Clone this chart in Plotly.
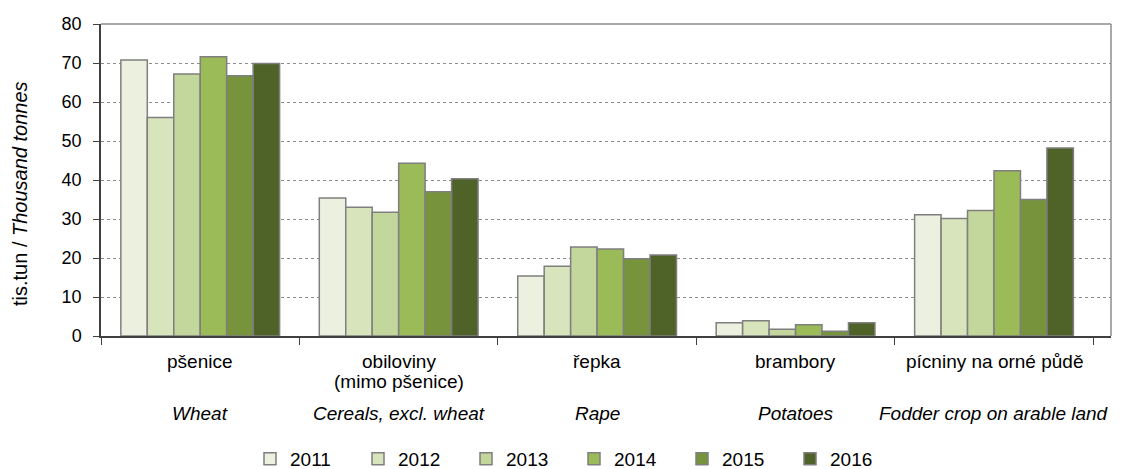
import plotly.graph_objects as go

categories_cz = ["pšenice", "obiloviny (mimo pšenice)", "řepka", "brambory", "pícniny na orné půdě"]
label_line1 = ["pšenice", "obiloviny", "řepka", "brambory", "pícniny na orné půdě"]
label_line2 = ["", "(mimo pšenice)", "", "", ""]
categories_en = ["Wheat", "Cereals, excl. wheat", "Rape", "Potatoes", "Fodder crop on arable land"]
years = ["2011", "2012", "2013", "2014", "2015", "2016"]
values = {
    "2011": [70.8, 35.4, 15.4, 3.4, 31.1],
    "2012": [56.0, 33.0, 17.9, 3.9, 30.1],
    "2013": [67.2, 31.7, 22.8, 1.7, 32.2],
    "2014": [71.6, 44.3, 22.3, 2.9, 42.4],
    "2015": [66.7, 37.0, 19.8, 1.2, 35.0],
    "2016": [69.9, 40.3, 20.8, 3.4, 48.2],
}
colors = ["#EBF0DF", "#D8E4BC", "#C3D69B", "#9BBB59", "#77933C", "#4F6228"]
y_ticks = [0, 10, 20, 30, 40, 50, 60, 70, 80]

FONT = "Liberation Sans, Arial, sans-serif"
PLOT_H = 312.0  # px height of plotting area (for paper-coordinate offsets)

def py(px_from_bottom_axis):
    return -px_from_bottom_axis / PLOT_H

fig = go.Figure()
for yr, col in zip(years, colors):
    fig.add_trace(go.Bar(
        x=categories_cz, y=values[yr], name=yr,
        marker=dict(color=col, line=dict(color="#7F7F7F", width=1.5)),
    ))

for cat, l1, l2, en in zip(categories_cz, label_line1, label_line2, categories_en):
    fig.add_annotation(x=cat, y=py(25), xref="x", yref="paper", text=l1,
                       showarrow=False, font=dict(family=FONT, size=19, color="#000"),
                       xanchor="center", yanchor="middle")
    if l2:
        fig.add_annotation(x=cat, y=py(45), xref="x", yref="paper", text=l2,
                           showarrow=False, font=dict(family=FONT, size=19, color="#000"),
                           xanchor="center", yanchor="middle")
    fig.add_annotation(x=cat, y=py(77), xref="x", yref="paper", text="<i>" + en + "</i>",
                       showarrow=False, font=dict(family=FONT, size=19, color="#000"),
                       xanchor="center", yanchor="middle")

# y axis title
fig.add_annotation(x=(20 - 101) / 1010.0, y=0.5 - 14 / PLOT_H, xref="paper", yref="paper",
                   text="tis.tun / <i>Thousand tonnes</i>", textangle=-90, showarrow=False,
                   font=dict(family=FONT, size=20, color="#000"),
                   xanchor="center", yanchor="middle")

# plot border top and right
fig.add_shape(type="line", xref="paper", yref="paper", x0=0, x1=1, y0=1, y1=1,
              line=dict(color="#8C8C8C", width=1.5))
fig.add_shape(type="line", xref="paper", yref="paper", x0=1, x1=1, y0=0, y1=1,
              line=dict(color="#8C8C8C", width=1.5))

# page body has an 8px default margin, so the figure is offset by (8, 8)
fig.update_layout(
    width=1136, height=461,
    margin=dict(l=93, r=33, t=16, b=133, autoexpand=False),
    paper_bgcolor="white", plot_bgcolor="white",
    barmode="group", bargap=0.2, bargroupgap=0,
    font=dict(family=FONT, size=18, color="#000"),
    showlegend=True,
    legend=dict(orientation="h", x=(250 - 101) / 1010.0, xanchor="left", y=py(123), yanchor="middle",
                font=dict(family=FONT, size=19, color="#000"), traceorder="normal",
                entrywidth=63, itemwidth=30, bgcolor="rgba(0,0,0,0)"),
    xaxis=dict(tickson="boundaries", ticks="outside", ticklen=7, tickcolor="#404040",
               showline=True, linecolor="#404040", linewidth=1.5, showgrid=False,
               showticklabels=False, automargin=False),
    yaxis=dict(range=[0, 80], tickvals=y_ticks, ticks="outside", ticklen=6, tickcolor="#404040",
               showline=True, linecolor="#404040", linewidth=1.5,
               showgrid=True, gridcolor="#8C8C8C", griddash="dot", gridwidth=1,
               zeroline=False, automargin=False, ticklabelstandoff=8,
               tickfont=dict(family=FONT, size=18, color="#000")),
)

fig.write_html("out.html")
